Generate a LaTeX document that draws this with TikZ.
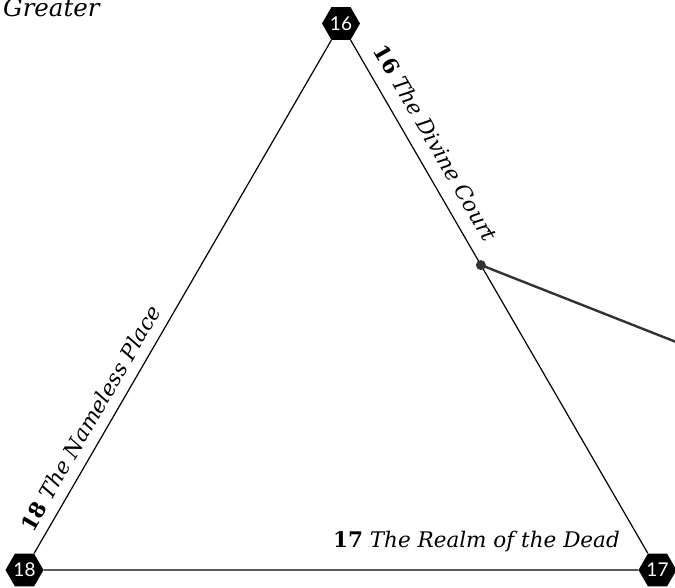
\documentclass[tikz,border=0pt]{standalone}
\usepackage{fontspec}
\setmainfont{DejaVu Serif}
\newfontfamily\hexfont{Lato}
\usetikzlibrary{shapes.geometric,calc}
\definecolor{pointc}{HTML}{333333}
\begin{document}
\begin{tikzpicture}[x=1pt,y=-1pt,
  hexnode/.style={regular polygon, regular polygon sides=6, fill=black, text=white,
    inner sep=0pt, minimum size=38pt, font=\hexfont\fontsize{19}{19}\selectfont},
  edgeline/.style={line width=1.2pt, black},
  lbl/.style={inner sep=0pt, font=\fontsize{21.5}{24}\selectfont},
  dotnode/.style={circle, fill=pointc, inner sep=0pt, minimum size=10pt},
  pointer/.style={line width=2.4pt, pointc},
]
\useasboundingbox (0,0) rectangle (675,588);
\node[hexnode] (h16) at (341,23.5) {16};
\node[hexnode] (h18) at (24.5,570) {18};
\node[hexnode] (h17) at (657.5,570) {17};
\draw[edgeline] (h16) -- (h17);
\draw[edgeline] (h17) -- (h18);
\draw[edgeline] (h18) -- (h16);

\node[lbl, anchor=base west, rotate=-59.9] (l16) at (372.7,50.2) {\textbf{16} \textit{The Divine Court}};
\node[lbl, anchor=base west, rotate=59.9] (l18) at (33,533.3) {\textbf{18} \textit{The Nameless Place}};
\node[lbl, anchor=base east] (l17) at (620,547) {\textbf{17} \textit{The Realm of the Dead}};
\node[lbl, anchor=base west, font=\fontsize{24.5}{26}\selectfont] (greater) at (3,17) {\textit{Greater}};

\node[dotnode] (dot) at ($(h16.center)!0.442!(h17.center)$) {};
\coordinate (outend) at (700,351.4);
\draw[pointer] (dot.center) -- (outend);
\end{tikzpicture}
\end{document}
